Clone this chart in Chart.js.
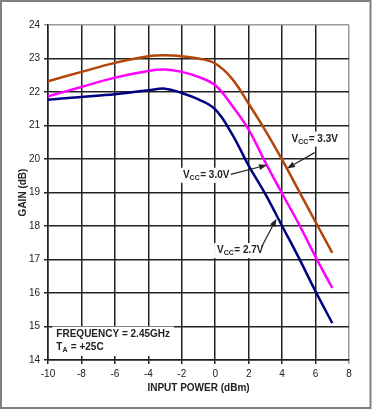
<!DOCTYPE html>
<html>
<head>
<meta charset="utf-8">
<script src="https://cdn.jsdelivr.net/npm/chart.js@4"></script>
<style>
  html, body { margin: 0; padding: 0; background: #fff; }
  #gainChart { display: block; }
</style>
</head>
<body>
<canvas id="gainChart" width="373" height="409"></canvas>
<script>
// input power (dBm)
const inputPower = [-10, -8, -6, -4, -3, -2, -1, 0, 1, 2, 3, 4, 5, 6, 7];
const gain33 = [22.32, 22.6, 22.87, 23.07, 23.1, 23.07, 23.0, 22.85, 22.4, 21.65, 20.85, 19.98, 19.05, 18.12, 17.2];
const gain30 = [21.87, 22.15, 22.43, 22.63, 22.67, 22.6, 22.45, 22.2, 21.6, 20.88, 19.9, 18.97, 18.06, 17.08, 16.15];
const gain27 = [21.77, 21.85, 21.93, 22.05, 22.1, 21.97, 21.78, 21.48, 20.75, 19.8, 18.95, 18.0, 17.05, 16.05, 15.1];

const xTicks = [-10, -8, -6, -4, -2, 0, 2, 4, 6, 8];
const yTicks = [14, 15, 16, 17, 18, 19, 20, 21, 22, 23, 24];

const FONT = "'Liberation Sans', Arial, sans-serif";

function toPoints(ys) {
    return inputPower.map((x, i) => ({ x: x, y: ys[i] }));
}

// draws "V" + subscript + rest, returns width
function subText(ctx, x, y, main, sub, rest, draw) {
    ctx.font = 'bold 10px ' + FONT;
    let w1 = ctx.measureText(main).width;
    ctx.font = 'bold 7px ' + FONT;
    let w2 = ctx.measureText(sub).width;
    ctx.font = 'bold 10px ' + FONT;
    let w3 = ctx.measureText(rest).width;
    if (draw) {
        ctx.fillText(main, x, y);
        ctx.font = 'bold 7px ' + FONT;
        ctx.fillText(sub, x + w1, y + 2);
        ctx.font = 'bold 10px ' + FONT;
        ctx.fillText(rest, x + w1 + w2 + 0.5, y);
    }
    return w1 + w2 + 0.5 + w3;
}

function arrow(ctx, x1, y1, x2, y2) {
    ctx.strokeStyle = '#222';
    ctx.fillStyle = '#222';
    ctx.lineWidth = 1.2;
    let ang = Math.atan2(y2 - y1, x2 - x1);
    let len = 8, half = 3;
    let bx = x2 - len * Math.cos(ang), by = y2 - len * Math.sin(ang);
    ctx.beginPath();
    ctx.moveTo(x1, y1);
    ctx.lineTo(bx, by);
    ctx.stroke();
    ctx.beginPath();
    ctx.moveTo(x2, y2);
    ctx.lineTo(bx + half * Math.sin(ang), by - half * Math.cos(ang));
    ctx.lineTo(bx - half * Math.sin(ang), by + half * Math.cos(ang));
    ctx.closePath();
    ctx.fill();
}

// labels: [text start x, baseline y] in data units, arrow from/to in data units
const labels = [
    { rest: '= 3.3V', at: [4.56, 20.52], from: [5.94, 20.19], to: [4.29, 19.72] },
    { rest: '= 3.0V', at: [-1.93, 19.44], from: [0.93, 19.54], to: [3.1, 19.82] },
    { rest: '= 2.7V', at: [0.11, 17.19], from: [2.78, 17.38], to: [3.66, 18.22] }
];

const notesPlugin = {
    id: 'notes',
    afterDatasetsDraw(chart) {
        const ctx = chart.ctx;
        const xs = chart.scales.x, ys = chart.scales.y;
        ctx.save();
        ctx.textBaseline = 'alphabetic';
        ctx.textAlign = 'left';

        labels.forEach(l => {
            let px = xs.getPixelForValue(l.at[0]);
            let py = ys.getPixelForValue(l.at[1]);
            let w = subText(ctx, px, py, 'V', 'CC', l.rest, false);
            ctx.fillStyle = '#fff';
            ctx.fillRect(px - 3, py - 10, w + 6, 15);
            ctx.fillStyle = '#222';
            subText(ctx, px, py, 'V', 'CC', l.rest, true);
            arrow(ctx, xs.getPixelForValue(l.from[0]), ys.getPixelForValue(l.from[1]),
                xs.getPixelForValue(l.to[0]), ys.getPixelForValue(l.to[1]));
        });

        // conditions box
        let fx = xs.getPixelForValue(-9.5);
        let fy1 = ys.getPixelForValue(14.7);
        let fy2 = ys.getPixelForValue(14.3);
        ctx.font = 'bold 10px ' + FONT;
        let fw = ctx.measureText('FREQUENCY = 2.45GHz').width;
        ctx.fillStyle = '#fff';
        ctx.fillRect(fx - 4, fy1 - 10, fw + 8, fy2 - fy1 + 16);
        ctx.fillStyle = '#222';
        ctx.fillText('FREQUENCY = 2.45GHz', fx, fy1);
        subText(ctx, fx, fy2, 'T', 'A', ' = +25C', true);
        ctx.restore();
    },
    afterDraw(chart) {
        const ctx = chart.ctx;
        ctx.save();
        ctx.strokeStyle = '#808080';
        ctx.lineWidth = 2;
        ctx.strokeRect(1, 1, 369.5, 407);
        ctx.restore();
    }
};

function series(label, ys, color) {
    return {
        label: label,
        data: toPoints(ys),
        borderColor: color,
        backgroundColor: color,
        borderWidth: 2.5,
        pointRadius: 0,
        tension: 0.4,
        fill: false
    };
}

new Chart(document.getElementById('gainChart'), {
    type: 'line',
    data: {
        datasets: [
            series('VCC = 3.3V', gain33, '#B4460A'),
            series('VCC = 3.0V', gain30, '#FF00FF'),
            series('VCC = 2.7V', gain27, '#000080')
        ]
    },
    options: {
        responsive: false,
        animation: false,
        devicePixelRatio: 1,
        layout: { padding: { top: 25, right: 24, left: 0, bottom: 0 } },
        plugins: { legend: { display: false }, tooltip: { enabled: false } },
        scales: {
            x: {
                type: 'linear',
                min: xTicks[0],
                max: xTicks[xTicks.length - 1],
                afterBuildTicks: s => { s.ticks = xTicks.map(v => ({ value: v })); },
                afterFit: s => { s.height = 49; },
                ticks: { color: '#222', font: { family: FONT, size: 10 }, padding: 4, maxRotation: 0 },
                grid: {
                    color: c => (c.tick && c.tick.value === 8) ? '#999' : '#222',
                    lineWidth: 1.5,
                    tickLength: 4
                },
                border: { color: '#222', width: 1.5 },
                title: {
                    display: true,
                    text: 'INPUT POWER (dBm)',
                    color: '#222',
                    font: { family: FONT, size: 10, weight: 'bold' },
                    padding: { top: 0, bottom: 15 }
                }
            },
            y: {
                min: yTicks[0],
                max: yTicks[yTicks.length - 1],
                afterBuildTicks: s => { s.ticks = yTicks.map(v => ({ value: v })); },
                afterFit: s => { s.width = 48; },
                ticks: { color: '#222', font: { family: FONT, size: 10 }, padding: 4 },
                grid: {
                    color: c => (c.tick && c.tick.value === 24) ? '#999' : '#222',
                    lineWidth: 1.5,
                    tickLength: 4
                },
                border: { color: '#222', width: 1.5 },
                title: {
                    display: true,
                    text: 'GAIN (dB)',
                    color: '#222',
                    font: { family: FONT, size: 10, weight: 'bold' },
                    padding: { top: 17, bottom: 0 }
                }
            }
        }
    },
    plugins: [notesPlugin]
});
</script>
</body>
</html>
